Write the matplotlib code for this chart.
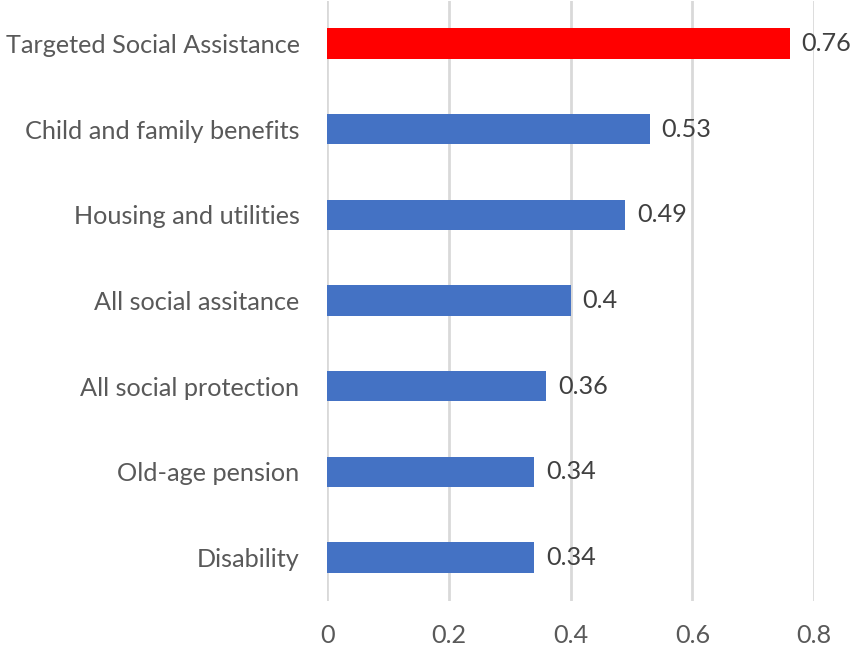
import matplotlib
matplotlib.use("Agg")
import matplotlib.pyplot as plt

categories = ["Targeted Social Assistance", "Child and family benefits",
              "Housing and utilities", "All social assitance",
              "All social protection", "Old-age pension", "Disability"]
values = [0.76, 0.53, 0.49, 0.40, 0.36, 0.34, 0.34]
value_labels = ["0.76", "0.53", "0.49", "0.4", "0.36", "0.34", "0.34"]
bar_colors = ["#FF0000"] + ["#4472C4"] * 6
xticks = [0, 0.2, 0.4, 0.6, 0.8]
xtick_labels = ["0", "0.2", "0.4", "0.6", "0.8"]

plt.rcParams["font.family"] = ["Lato", "DejaVu Sans"]
FS = 18.2

fig = plt.figure(figsize=(8.53, 6.49), dpi=100)
ax = fig.add_axes([327.3 / 853, 1 - 600.5 / 649, (814 - 327.3) / 853, 600 / 649])

ypos = list(range(len(categories)))
bars = ax.barh(ypos, values, height=0.355, color=bar_colors, zorder=3)
ax.set_ylim(len(categories) - 0.5, -0.5)
ax.set_xlim(0, 0.8)

for bar, lab in zip(bars, value_labels):
    ax.annotate(lab, (bar.get_width(), bar.get_y() + bar.get_height() / 2),
                xytext=(12 * 72 / 100, 0), textcoords="offset points",
                va="center", ha="left", fontsize=FS, color="#404040")

ax.set_yticks(ypos)
ax.set_yticklabels(categories, fontsize=FS, color="#595959")
ax.set_xticks(xticks)
ax.set_xticklabels(xtick_labels, fontsize=FS, color="#595959")
ax.tick_params(axis="y", length=0, pad=20)
ax.tick_params(axis="x", length=0, pad=17)
ax.grid(axis="x", color="#D9D9D9", linewidth=2, zorder=0)
for s in ax.spines.values():
    s.set_visible(False)

fig.savefig("out.png", dpi=100)
